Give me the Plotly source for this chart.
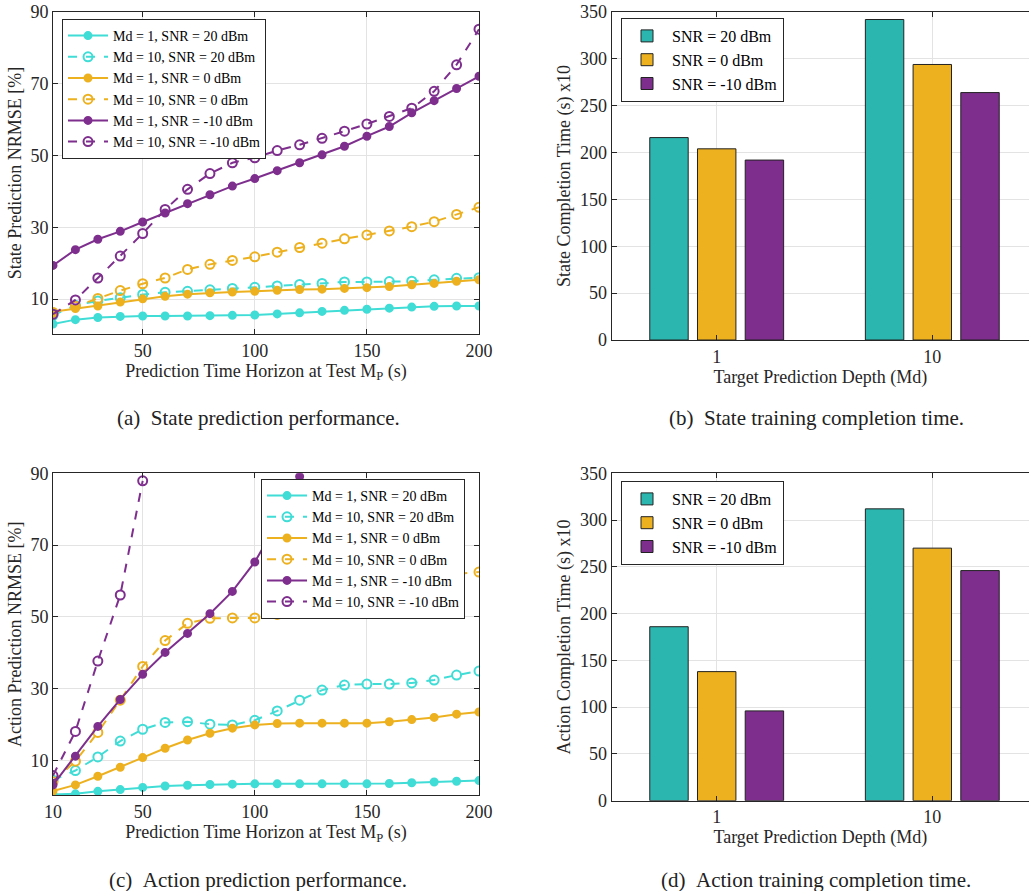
import plotly.graph_objects as go

# prediction horizon (s)
horizon = list(range(10, 210, 10))

# (a) state prediction NRMSE [%]
state_md1_snr20 = [3.1, 4.3, 4.9, 5.2, 5.3, 5.3, 5.3, 5.4, 5.5, 5.6, 5.9, 6.2, 6.6, 6.9, 7.2, 7.5, 7.8, 8.0, 8.1, 8.1]
state_md10_snr20 = [5.5, 8.3, 9.5, 10.4, 11.3, 11.9, 12.2, 12.6, 13.0, 13.3, 13.7, 14.1, 14.4, 14.8, 14.8, 14.9, 15.0, 15.4, 15.8, 16.0]
state_md1_snr0 = [6.5, 7.4, 8.1, 9.2, 10.1, 10.8, 11.4, 11.8, 12.0, 12.2, 12.5, 12.7, 12.8, 13.0, 13.2, 13.5, 14.0, 14.4, 15.0, 15.4]
state_md10_snr0 = [6.3, 8.0, 10.2, 12.4, 14.3, 15.9, 18.3, 19.7, 20.8, 21.8, 23.1, 24.4, 25.6, 26.8, 27.9, 29.0, 30.2, 31.6, 33.6, 35.6]
state_md1_snrm10 = [19.4, 23.8, 26.7, 28.9, 31.5, 34.0, 36.6, 39.1, 41.5, 43.6, 45.8, 48.0, 50.2, 52.6, 55.4, 58.1, 61.9, 65.3, 68.7, 72.1]
state_md10_snrm10 = [5.8, 9.8, 15.9, 22.0, 28.3, 35.0, 40.6, 45.0, 48.0, 49.4, 51.4, 53.0, 54.8, 56.8, 58.8, 60.9, 63.2, 67.9, 75.3, 85.2]

# (c) action prediction NRMSE [%]
action_md1_snr20 = [0.5, 0.7, 1.4, 1.9, 2.5, 2.9, 3.1, 3.3, 3.4, 3.5, 3.5, 3.5, 3.5, 3.5, 3.5, 3.6, 3.8, 4.0, 4.2, 4.4]
action_md10_snr20 = [4.5, 7.2, 11.0, 15.4, 18.7, 20.6, 20.8, 20.1, 19.9, 21.2, 23.8, 26.8, 29.6, 31.0, 31.3, 31.3, 31.6, 32.4, 33.8, 34.9]
action_md1_snr0 = [1.5, 3.2, 5.6, 8.1, 10.8, 13.4, 15.7, 17.6, 19.0, 19.9, 20.3, 20.4, 20.4, 20.4, 20.4, 20.8, 21.4, 22.0, 22.9, 23.5]
action_md10_snr0 = [4.1, 9.8, 17.8, 26.8, 36.2, 43.4, 48.2, 49.6, 49.7, 49.7, 50.7, 52.2, 54.7, 57.0, 58.2, 59.3, 60.3, 61.2, 62.0, 62.5]
action_md1_snrm10 = [3.2, 11.2, 19.5, 27.0, 34.0, 40.1, 45.4, 50.9, 57.1, 65.3, 76.0, 89.1]
action_md10_snrm10 = [5.8, 18.1, 37.7, 56.1, 87.9]

# (b), (d) completion time (s) x10
depth_labels = ["1", "10"]
depth_pos = [1, 2]
state_time = {"SNR = 20 dBm": [216, 342], "SNR = 0 dBm": [204, 294], "SNR = -10 dBm": [192, 264]}
action_time = {"SNR = 20 dBm": [186, 312], "SNR = 0 dBm": [138, 270], "SNR = -10 dBm": [96, 246]}

CYAN = "#40DCD6"
CYAN_BAR = "#2BB7B0"
ORANGE = "#EDB120"
PURPLE = "#7E2F8E"
FONT = "Liberation Serif"
W, H = 1029, 891


def px(x):
    return x / W


def py(y):
    return 1 - y / H


fig = go.Figure()

line_specs = [
    ("Md = 1, SNR = 20 dBm", CYAN, "solid", False),
    ("Md = 10, SNR = 20 dBm", CYAN, "dash", True),
    ("Md = 1, SNR = 0 dBm", ORANGE, "solid", False),
    ("Md = 10, SNR = 0 dBm", ORANGE, "dash", True),
    ("Md = 1, SNR = -10 dBm", PURPLE, "solid", False),
    ("Md = 10, SNR = -10 dBm", PURPLE, "dash", True),
]
state_series = [state_md1_snr20, state_md10_snr20, state_md1_snr0, state_md10_snr0, state_md1_snrm10, state_md10_snrm10]
action_series = [action_md1_snr20, action_md10_snr20, action_md1_snr0, action_md10_snr0, action_md1_snrm10, action_md10_snrm10]

for (name, col, dash, hollow), ys in zip(line_specs, state_series):
    fig.add_trace(go.Scatter(
        x=horizon[:len(ys)], y=ys, name=name, mode="lines+markers",
        line=dict(color=col, width=2, dash=dash),
        marker=dict(symbol="circle-open" if hollow else "circle", size=9 if hollow else 7,
                    color=col, line=dict(width=2, color=col)),
        xaxis="x", yaxis="y", legend="legend"))

for (name, col, dash, hollow), ys in zip(line_specs, action_series):
    fig.add_trace(go.Scatter(
        x=horizon[:len(ys)], y=ys, name=name, mode="lines+markers",
        line=dict(color=col, width=2, dash=dash),
        marker=dict(symbol="circle-open" if hollow else "circle", size=9 if hollow else 7,
                    color=col, line=dict(width=2, color=col)),
        xaxis="x3", yaxis="y3", legend="legend2"))

bar_cols = [CYAN_BAR, ORANGE, PURPLE]
for (name, vals), col in zip(state_time.items(), bar_cols):
    fig.add_trace(go.Bar(x=depth_pos, y=vals, name=name, marker=dict(color=col, line=dict(color="#222", width=1)),
                         xaxis="x2", yaxis="y2", legend="legend3"))
for (name, vals), col in zip(action_time.items(), bar_cols):
    fig.add_trace(go.Bar(x=depth_pos, y=vals, name=name, marker=dict(color=col, line=dict(color="#222", width=1)),
                         xaxis="x4", yaxis="y4", legend="legend4"))

axis_common = dict(showline=True, linecolor="#262626", linewidth=1, ticks="inside", ticklen=5,
                   tickcolor="#262626", gridcolor="#E3E3E3", zeroline=False, automargin=False,
                   tickfont=dict(family=FONT, size=18, color="#262626"),
                   title_font=dict(family=FONT, size=18, color="#262626"))

left_x = [px(53), px(479)]
right_x = [px(611.7), 1.0]
# the bar axes run past the right edge: category 1 at x=716.7, category 2 at x=932.3
bar_unit = 932.3 - 716.7
bar_range = [1 - (716.7 - 611.7) / bar_unit, 2 + (W - 932.3) / bar_unit]

legend_common = dict(bgcolor="white", bordercolor="#262626", borderwidth=1, xanchor="left", yanchor="top",
                     tracegroupgap=0, itemwidth=40)

fig.update_layout(
    width=W, height=H, margin=dict(l=0, r=0, t=0, b=0),
    paper_bgcolor="white", plot_bgcolor="white",
    font=dict(family=FONT, color="#262626"),
    barmode="group", bargap=0.336, bargroupgap=0.195,
    xaxis=dict(axis_common, domain=left_x, anchor="y", range=[10, 200], tickvals=[50, 100, 150, 200],
               mirror="ticks", title=dict(text="Prediction Time Horizon at Test M<sub>P</sub> (s)", standoff=4)),
    yaxis=dict(axis_common, domain=[py(334), py(12)], anchor="x", range=[0.3, 90], tickvals=[10, 30, 50, 70, 90],
               mirror="ticks", title=dict(text="State Prediction NRMSE [%]", standoff=4)),
    xaxis3=dict(axis_common, domain=left_x, anchor="y3", range=[10, 200], tickvals=[10, 50, 100, 150, 200],
                mirror="ticks", title=dict(text="Prediction Time Horizon at Test M<sub>P</sub> (s)", standoff=4)),
    yaxis3=dict(axis_common, domain=[py(795.3), py(473.3)], anchor="x3", range=[0.3, 90],
                tickvals=[10, 30, 50, 70, 90], mirror="ticks",
                title=dict(text="Action Prediction NRMSE [%]", standoff=4)),
    xaxis2=dict(axis_common, domain=right_x, anchor="y2", range=bar_range, tickvals=depth_pos,
                ticktext=depth_labels, mirror="ticks", title=dict(text="Target Prediction Depth (Md)", standoff=4)),
    yaxis2=dict(axis_common, domain=[py(340), py(12)], anchor="x2", range=[0, 350], dtick=50,
                title=dict(text="State Completion Time (s) x10", standoff=4)),
    xaxis4=dict(axis_common, domain=right_x, anchor="y4", range=bar_range, tickvals=depth_pos,
                ticktext=depth_labels, mirror="ticks", title=dict(text="Target Prediction Depth (Md)", standoff=4)),
    yaxis4=dict(axis_common, domain=[py(800.7), py(473.3)], anchor="x4", range=[0, 350], dtick=50,
                title=dict(text="Action Completion Time (s) x10", standoff=4)),
    legend=dict(legend_common, x=px(62), y=py(19), font=dict(family=FONT, size=14, color="black")),
    legend2=dict(legend_common, x=px(261), y=py(479), font=dict(family=FONT, size=14, color="black")),
    legend3=dict(legend_common, x=px(621), y=py(18), font=dict(family=FONT, size=16, color="black")),
    legend4=dict(legend_common, x=px(621), y=py(481), font=dict(family=FONT, size=16, color="black")),
)

captions = [
    ("(a)&nbsp;&nbsp;State prediction performance.", 258, 418),
    ("(b)&nbsp;&nbsp;State training completion time.", 816, 418),
    ("(c)&nbsp;&nbsp;Action prediction performance.", 258, 880),
    ("(d)&nbsp;&nbsp;Action training completion time.", 816, 880),
]
for text, cx, cy in captions:
    fig.add_annotation(text=text, x=px(cx), y=py(cy), xref="paper", yref="paper", showarrow=False,
                       xanchor="center", yanchor="middle", font=dict(family=FONT, size=21, color="#222"))

# drop the default 8px body margin so the figure sits at the page corner
fig.write_html("out.html", config={"displayModeBar": False},
               post_script="document.body.style.margin='0';")
